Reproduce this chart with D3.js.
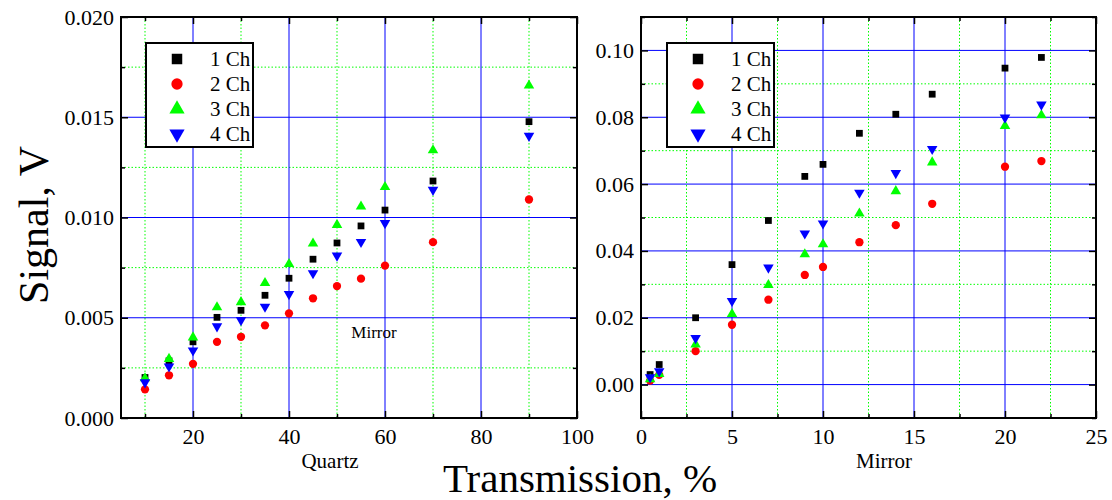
<!DOCTYPE html>
<html>
<head>
<meta charset="utf-8">
<script src="https://cdn.jsdelivr.net/npm/d3@7"></script>
<style>
  body { margin: 0; background: #fff; }
  svg { font-family: "Liberation Serif", "Times New Roman", serif; }
</style>
</head>
<body>
<script>
// channel names / colours / marker shapes
var channels = ["1 Ch", "2 Ch", "3 Ch", "4 Ch"];
var colors = ["#000000", "#ff0000", "#00ff00", "#0000ff"];

// Quartz (left panel)
var quartzX = [10, 15, 20, 25, 30, 35, 40, 45, 50, 55, 60, 70, 90];
var quartz1 = [0.00202, 0.00285, 0.0038, 0.00502, 0.00537, 0.00612, 0.00697, 0.00792, 0.00873, 0.00958, 0.01037, 0.01182, 0.01478];
var quartz2 = [0.00143, 0.00213, 0.0027, 0.0038, 0.00405, 0.00462, 0.00522, 0.00597, 0.00658, 0.00695, 0.0076, 0.00877, 0.0109];
var quartz3 = [0.00198, 0.00295, 0.00402, 0.00552, 0.00578, 0.00673, 0.00768, 0.0087, 0.00963, 0.01055, 0.01152, 0.01335, 0.01658];
var quartz4 = [0.00178, 0.00257, 0.00337, 0.00457, 0.00488, 0.00555, 0.00618, 0.00722, 0.0081, 0.00878, 0.00972, 0.01138, 0.01407];

// Mirror (right panel)
var mirrorX = [0.5, 1, 3, 5, 7, 9, 10, 12, 14, 16, 20, 22];
var mirror1 = [0.0030, 0.0060, 0.0200, 0.0359, 0.0491, 0.0623, 0.0659, 0.0752, 0.0809, 0.0869, 0.0947, 0.0979];
var mirror2 = [0.0012, 0.0029, 0.0100, 0.0179, 0.0254, 0.0328, 0.0352, 0.0426, 0.0477, 0.0541, 0.0652, 0.0669];
var mirror3 = [0.0016, 0.0032, 0.0120, 0.0211, 0.0298, 0.0390, 0.0420, 0.0512, 0.0579, 0.0665, 0.0774, 0.0806];
var mirror4 = [0.0022, 0.0040, 0.0139, 0.0250, 0.0350, 0.0452, 0.0482, 0.0574, 0.0633, 0.0705, 0.0799, 0.0838];

// ticks
var quartzXMajor = [20, 40, 60, 80, 100];
var quartzXMinor = [10, 30, 50, 70, 90];
var quartzYMajor = [0, 0.005, 0.010, 0.015, 0.020];
var quartzYMinor = [0.0025, 0.0075, 0.0125, 0.0175];
var mirrorXMajor = [0, 5, 10, 15, 20, 25];
var mirrorXMinor = [2.5, 7.5, 12.5, 17.5, 22.5];
var mirrorYMajor = [0, 0.02, 0.04, 0.06, 0.08, 0.10];
var mirrorYMinor = [-0.01, 0.01, 0.03, 0.05, 0.07, 0.09, 0.11];

var svg = d3.select("body").append("svg")
    .attr("width", 1112)
    .attr("height", 500);

var plotTop = 17, plotBottom = 418;

var panels = [
  {
    left: 121, right: 577,
    xDomain: [5, 100], yDomain: [0, 0.020],
    xs: quartzX, series: [quartz1, quartz2, quartz3, quartz4],
    xMajor: quartzXMajor, xMinor: quartzXMinor,
    yMajor: quartzYMajor, yMinor: quartzYMinor,
    yFormat: d3.format(".3f"),
    hGrid: [0.005, 0.010, 0.015],
    vGrid: [20, 40, 60, 80],
    legendX: 146
  },
  {
    left: 641, right: 1096,
    xDomain: [0, 25], yDomain: [-0.01, 0.11],
    xs: mirrorX, series: [mirror1, mirror2, mirror3, mirror4],
    xMajor: mirrorXMajor, xMinor: mirrorXMinor,
    yMajor: mirrorYMajor, yMinor: mirrorYMinor,
    yFormat: d3.format(".2f"),
    hGrid: mirrorYMajor,
    vGrid: [5, 10, 15, 20],
    legendX: 667
  }
];

var shapes = [d3.symbolSquare, d3.symbolCircle, d3.symbolTriangle, d3.symbolTriangle];
var sizes = [46, 54, 48, 48];
var legendSizes = [110, 100, 100, 100];

panels.forEach(function(p) {
  var x = d3.scaleLinear().domain(p.xDomain).range([p.left, p.right]);
  var y = d3.scaleLinear().domain(p.yDomain).range([plotBottom, plotTop]);
  var g = svg.append("g");

  // minor (green dotted) grid
  g.selectAll(".vminor").data(p.xMinor).enter().append("line")
      .attr("x1", d => x(d)).attr("x2", d => x(d))
      .attr("y1", plotTop).attr("y2", plotBottom)
      .attr("stroke", "#00ff00").attr("stroke-width", 1)
      .attr("stroke-dasharray", "1.5,2");
  g.selectAll(".hminor").data(p.yMinor.filter(d => d > p.yDomain[0] && d < p.yDomain[1]))
      .enter().append("line")
      .attr("x1", p.left).attr("x2", p.right)
      .attr("y1", d => y(d)).attr("y2", d => y(d))
      .attr("stroke", "#00ff00").attr("stroke-width", 1)
      .attr("stroke-dasharray", "1.5,2");

  // major (blue) grid
  g.selectAll(".vmajor").data(p.vGrid).enter().append("line")
      .attr("x1", d => x(d)).attr("x2", d => x(d))
      .attr("y1", plotTop).attr("y2", plotBottom)
      .attr("stroke", "#0000ff").attr("stroke-width", 1);
  g.selectAll(".hmajor").data(p.hGrid).enter().append("line")
      .attr("x1", p.left).attr("x2", p.right)
      .attr("y1", d => y(d)).attr("y2", d => y(d))
      .attr("stroke", "#0000ff").attr("stroke-width", 1);

  // axes: inward ticks on all four sides
  g.append("g").attr("transform", "translate(0," + plotBottom + ")")
      .call(d3.axisBottom(x).tickValues(p.xMajor).tickSize(-7).tickPadding(10).tickFormat(d3.format("d")));
  g.append("g").attr("transform", "translate(0," + plotBottom + ")")
      .call(d3.axisBottom(x).tickValues(p.xMinor).tickSize(-4).tickFormat(""));
  g.append("g").attr("transform", "translate(0," + plotTop + ")")
      .call(d3.axisTop(x).tickValues(p.xMajor).tickSize(-7).tickFormat(""));
  g.append("g").attr("transform", "translate(0," + plotTop + ")")
      .call(d3.axisTop(x).tickValues(p.xMinor).tickSize(-4).tickFormat(""));
  g.append("g").attr("transform", "translate(" + p.left + ",0)")
      .call(d3.axisLeft(y).tickValues(p.yMajor).tickSize(-7).tickPadding(7).tickFormat(p.yFormat));
  g.append("g").attr("transform", "translate(" + p.left + ",0)")
      .call(d3.axisLeft(y).tickValues(p.yMinor).tickSize(-4).tickFormat(""));
  g.append("g").attr("transform", "translate(" + p.right + ",0)")
      .call(d3.axisRight(y).tickValues(p.yMajor).tickSize(-7).tickFormat(""));
  g.append("g").attr("transform", "translate(" + p.right + ",0)")
      .call(d3.axisRight(y).tickValues(p.yMinor).tickSize(-4).tickFormat(""));

  g.selectAll(".domain").remove();
  g.selectAll(".tick line").attr("stroke", "#000").attr("stroke-width", 1.5);
  g.selectAll(".tick text")
      .style("font-family", "'Liberation Serif', serif")
      .style("font-size", "22px").attr("fill", "#000");

  // frame
  g.append("rect")
      .attr("x", p.left).attr("y", plotTop)
      .attr("width", p.right - p.left).attr("height", plotBottom - plotTop)
      .attr("fill", "none").attr("stroke", "#000").attr("stroke-width", 2);

  // data points
  p.series.forEach(function(vals, i) {
    g.selectAll(null).data(vals).enter().append("path")
        .attr("d", d3.symbol().type(shapes[i]).size(sizes[i]))
        .attr("transform", (d, j) => "translate(" + x(p.xs[j]) + "," + y(d) + ")" + (i === 3 ? " rotate(180)" : ""))
        .attr("fill", colors[i]);
  });

  // legend
  var lg = g.append("g").attr("transform", "translate(" + p.legendX + ",43)");
  lg.append("rect").attr("width", 107).attr("height", 104)
      .attr("fill", "#fff").attr("stroke", "#000").attr("stroke-width", 2);
  channels.forEach(function(c, i) {
    var cy = 16 + i * 25;
    lg.append("path")
        .attr("d", d3.symbol().type(shapes[i]).size(legendSizes[i]))
        .attr("transform", "translate(31," + cy + ")" + (i === 3 ? " rotate(180)" : ""))
        .attr("fill", colors[i]);
    lg.append("text").attr("x", 64).attr("y", cy + 7)
        .style("font-size", "21px").text(c);
  });
});

// in-plot note
svg.append("text").attr("x", 374).attr("y", 338)
    .attr("text-anchor", "middle").style("font-size", "17px").text("Mirror");

// panel labels
svg.append("text").attr("x", 330).attr("y", 468)
    .attr("text-anchor", "middle").style("font-size", "21px").text("Quartz");
svg.append("text").attr("x", 884).attr("y", 468)
    .attr("text-anchor", "middle").style("font-size", "21px").text("Mirror");

// axis titles
svg.append("text").attr("x", 580).attr("y", 492)
    .attr("text-anchor", "middle").style("font-size", "41px").text("Transmission, %");
svg.append("text")
    .attr("transform", "translate(48,225) rotate(-90)")
    .attr("text-anchor", "middle").style("font-size", "42px").text("Signal, V");
</script>
</body>
</html>
